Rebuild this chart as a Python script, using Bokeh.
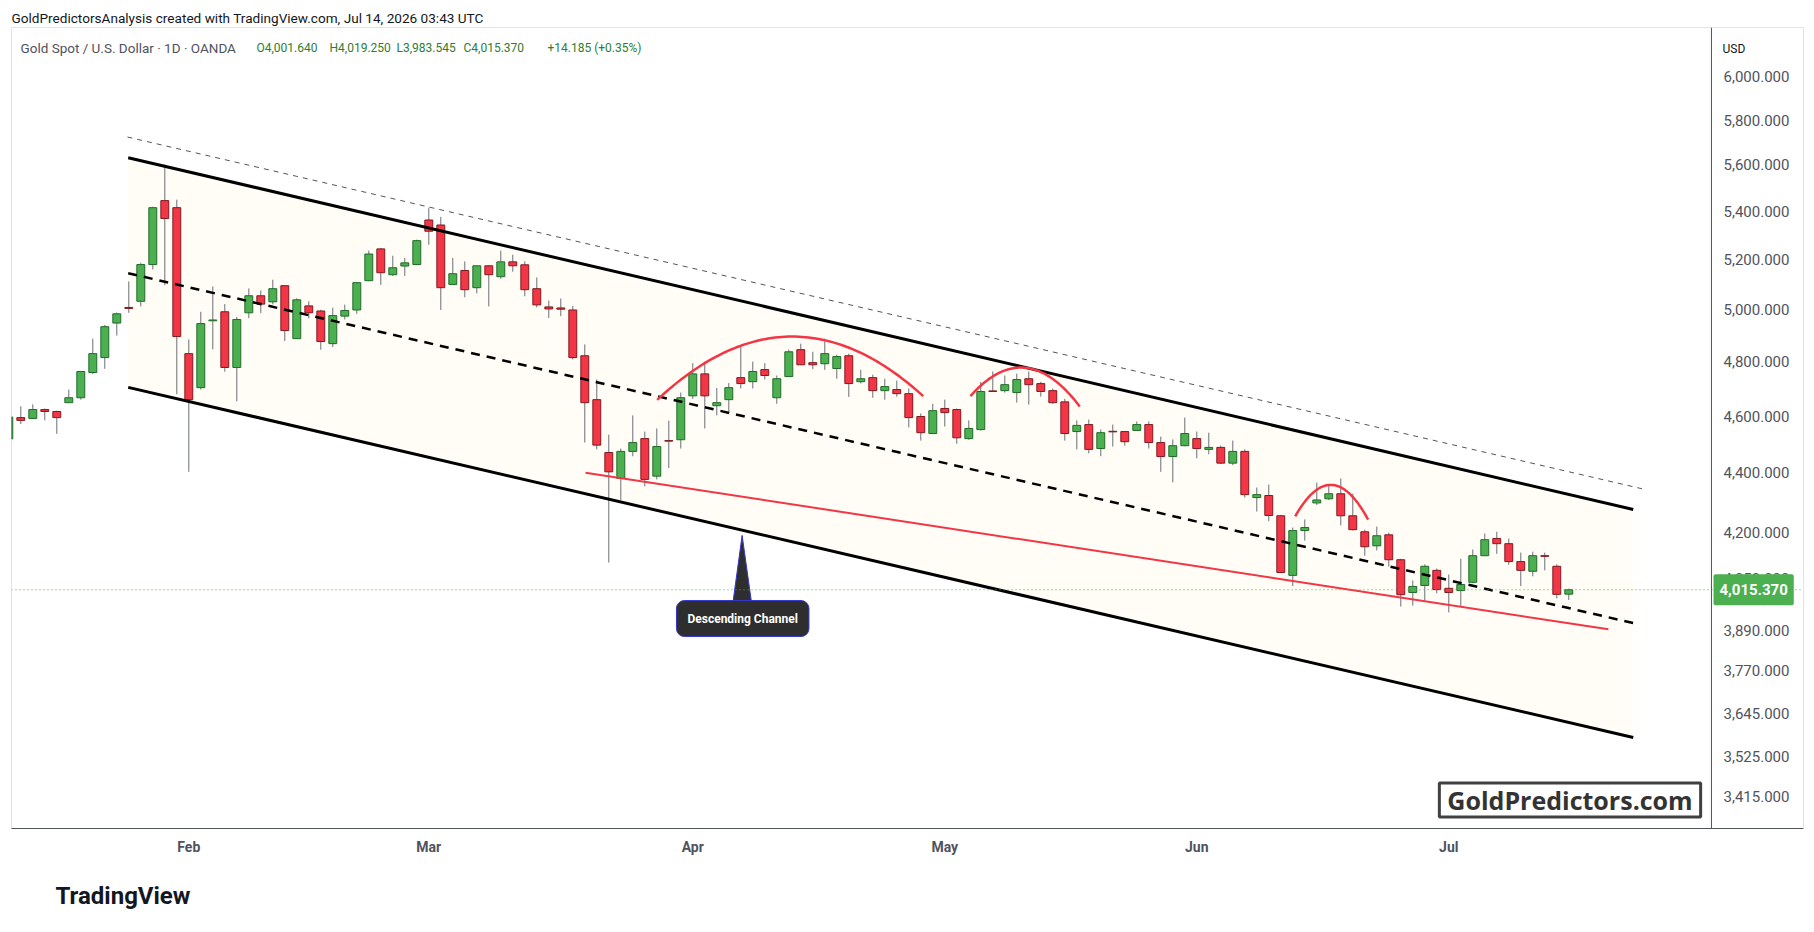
import numpy as np
from bokeh.plotting import figure
from bokeh.models import (ColumnDataSource, FixedTicker, NumeralTickFormatter, Label,
                          Span, Range1d, Title)
from bokeh.embed import file_html
from bokeh.resources import INLINE

# ---------------- data ----------------
bar_index = list(range(131))
opens = [4519, 4595, 4592, 4624, 4617, 4649, 4667, 4760, 4816, 4948,
         5009, 5033, 5180, 5446, 5416, 4831, 4704, 4957, 4992, 4779,
         4988, 5055, 5031, 5095, 4888, 5015, 4995, 4869, 4975, 4999,
         5115, 5244, 5139, 5174, 5180, 5364, 5343, 5100, 5156, 5087,
         5175, 5131, 5191, 5179, 5083, 5011, 5007, 4999, 4823, 4660,
         4471, 4381, 4475, 4520, 4389, 4513, 4516, 4674, 4755, 4638,
         4660, 4741, 4726, 4771, 4667, 4745, 4846, 4797, 4793, 4775,
         4823, 4726, 4741, 4693, 4697, 4682, 4599, 4538, 4628, 4624,
         4520, 4552, 4692, 4693, 4686, 4737, 4719, 4693, 4652, 4545,
         4570, 4485, 4546, 4545, 4549, 4570, 4506, 4457, 4495, 4520,
         4482, 4489, 4434, 4475, 4316, 4323, 4255, 4061, 4206, 4298,
         4312, 4329, 4255, 4202, 4156, 4192, 4111, 4007, 4029, 4077,
         4020, 4013, 4039, 4124, 4180, 4163, 4105, 4074, 4124, 4090,
         4001.640]
highs = [4605, 4636, 4643, 4628, 4620, 4697, 4766, 4888, 4941, 4989,
         5112, 5187, 5420, 5602, 5450, 4885, 4992, 5092, 5022, 4972,
         5084, 5076, 5119, 5097, 5045, 5033, 5000, 5008, 5020, 5110,
         5237, 5248, 5216, 5207, 5282, 5416, 5377, 5207, 5193, 5177,
         5177, 5237, 5220, 5193, 5128, 5036, 5044, 5015, 4866, 4734,
         4534, 4485, 4603, 4545, 4556, 4584, 4686, 4795, 4801, 4703,
         4721, 4861, 4801, 4795, 4749, 4846, 4869, 4838, 4888, 4827,
         4831, 4770, 4752, 4737, 4730, 4701, 4610, 4645, 4660, 4628,
         4585, 4725, 4764, 4749, 4756, 4764, 4726, 4701, 4663, 4585,
         4588, 4552, 4570, 4546, 4581, 4581, 4527, 4517, 4595, 4545,
         4541, 4495, 4513, 4482, 4350, 4360, 4258, 4216, 4243, 4367,
         4357, 4381, 4329, 4209, 4219, 4199, 4114, 4045, 4096, 4083,
         4064, 4114, 4144, 4196, 4202, 4180, 4134, 4137, 4134, 4096,
         4019.250]
lows = [4510, 4572, 4590, 4585, 4537, 4648, 4660, 4754, 4774, 4900,
        4988, 5013, 5160, 5097, 4680, 4404, 4697, 4847, 4763, 4654,
        4967, 4987, 5021, 4879, 4887, 4966, 4846, 4856, 4962, 4984,
        5113, 5098, 5134, 5134, 5178, 5261, 4999, 5098, 5049, 5065,
        5013, 5123, 5151, 5053, 5009, 4968, 4975, 4809, 4506, 4482,
        4102, 4308, 4458, 4354, 4378, 4417, 4485, 4663, 4556, 4603,
        4613, 4701, 4701, 4734, 4645, 4744, 4788, 4773, 4770, 4737,
        4670, 4719, 4667, 4660, 4671, 4560, 4513, 4536, 4563, 4502,
        4516, 4549, 4688, 4686, 4649, 4642, 4671, 4645, 4513, 4482,
        4468, 4458, 4492, 4495, 4547, 4485, 4404, 4368, 4493, 4451,
        4465, 4431, 4427, 4316, 4269, 4237, 4068, 4027, 4173, 4291,
        4308, 4223, 4206, 4124, 4141, 4089, 3963, 3966, 3982, 4004,
        3945, 3963, 4036, 4123, 4130, 4095, 4027, 4058, 4077, 3988,
        3983.545]
closes = [4597, 4585, 4624, 4617, 4595, 4667, 4764, 4831, 4934, 4984,
          5005, 5180, 5416, 5370, 4896, 4660, 4946, 4960, 4779, 4962,
          5055, 5022, 5083, 4919, 5039, 4988, 4877, 4977, 4997, 5107,
          5223, 5147, 5167, 5187, 5278, 5317, 5087, 5143, 5079, 5175,
          5139, 5191, 5175, 5079, 5019, 5003, 5002, 4816, 4649, 4497,
          4404, 4475, 4506, 4378, 4492, 4511, 4667, 4755, 4674, 4649,
          4704, 4719, 4764, 4749, 4737, 4838, 4789, 4789, 4831, 4820,
          4719, 4737, 4693, 4708, 4682, 4595, 4541, 4620, 4613, 4523,
          4556, 4690, 4690, 4715, 4734, 4715, 4690, 4649, 4538, 4567,
          4482, 4541, 4544, 4509, 4570, 4506, 4457, 4495, 4538, 4485,
          4489, 4434, 4475, 4326, 4326, 4256, 4070, 4206, 4216, 4308,
          4329, 4255, 4209, 4153, 4189, 4111, 4000, 4026, 4090, 4016,
          4007, 4032, 4124, 4176, 4163, 4105, 4077, 4124, 4122, 4001.185,
          4015.370]

month_ticks = [15, 35, 57, 78, 99, 120]
month_labels = ["Feb", "Mar", "Apr", "May", "Jun", "Jul"]
price_ticks = [6000, 5800, 5600, 5400, 5200, 5000, 4800, 4600, 4400, 4200,
               4050, 3890, 3770, 3645, 3525, 3415]

# drawing anchors (bar index, price)
channel_x = [9.95, 135.37]
channel_upper = [5632, 4276]
channel_mid = [5145, 3912]
channel_lower = [4705, 3577]
outer_x = [9.89, 136.1]
outer_p = [5724, 4346]
support_x = [48.06, 133.3]
support_p = [4401, 3893]
arcs = [([54.03, 65.1, 76.2], [4659, 4896, 4673]),
        ([80.14, 84.03, 89.25], [4673, 4778, 4635]),
        ([107.2, 110.28, 113.28], [4253, 4359, 4242])]
callout_tip = (61.11, 4190)
callout_base_x = [60.37, 61.87]
callout_base_p = 3982
callout_text_pos = (61.16, 3926)
price_scale_edge = 141.89   # bar position where the price scale strip begins

# ---------------- styles ----------------
UP, DOWN = "#4caf50", "#f23645"
UP_LINE, DOWN_LINE = "#1f6b2a", "#7e1a22"
WICK = "#6b6e78"
FONT = "Roboto"
TXT = "#131722"
AX = "#50535e"

p = figure(width=1814, height=932,
           x_range=Range1d(0.225, 149.56), y_range=Range1d(3330.8, 6236.6),
           y_axis_type="log", y_axis_location="right",
           output_backend="svg", toolbar_location=None,
           min_border_left=11, min_border_right=11,
           min_border_top=27, min_border_bottom=104)
p.xgrid.visible = False
p.ygrid.visible = False
p.outline_line_color = "#e0e3eb"
p.background_fill_color = "white"
p.border_fill_color = "white"

# header (title above the panel)
p.title.text = "GoldPredictorsAnalysis created with TradingView.com, Jul 14, 2026 03:43 UTC"
p.title.align = "left"
p.title.text_font = FONT
p.title.text_font_size = "13.6px"
p.title.text_font_style = "normal"
p.title.text_color = TXT
p.title.standoff = 3

# channel fill
p.patch(x=[channel_x[0], channel_x[1], channel_x[1], channel_x[0]],
        y=[channel_upper[0], channel_upper[1], channel_lower[1], channel_lower[0]],
        fill_color="#fffdf6", line_color=None)

# dotted last price line and price-scale separator
last = closes[-1]
p.add_layout(Span(location=last, dimension="width", line_color=UP,
                  line_dash="1 3", line_width=1))
p.add_layout(Span(location=price_scale_edge, dimension="height", line_color=AX,
                  line_width=1))

# candles
top = [max(o, c) for o, c in zip(opens, closes)]
bot = [min(o, c) for o, c in zip(opens, closes)]
up = [c >= o for o, c in zip(opens, closes)]
src = ColumnDataSource(dict(x=bar_index, h=highs, l=lows, top=top, bot=bot,
                            fill=[UP if u else DOWN for u in up],
                            line=[UP_LINE if u else DOWN_LINE for u in up]))
p.segment(x0="x", y0="h", x1="x", y1="l", source=src, line_color=WICK, line_width=1)
p.vbar(x="x", width=0.66, top="top", bottom="bot", source=src,
       fill_color="fill", line_color="line", line_width=1)

# channel lines
p.line(outer_x, outer_p, line_color="#555555", line_width=1, line_dash="5 5")
p.line(channel_x, channel_upper, line_color="black", line_width=3)
p.line(channel_x, channel_lower, line_color="black", line_width=3)
p.line(channel_x, channel_mid, line_color="black", line_width=2.5, line_dash="9 7")
p.line(support_x, support_p, line_color=DOWN, line_width=2)

# rounded tops
for ax, ap in arcs:
    coef = np.polyfit(np.array(ax), np.log(np.array(ap, dtype=float)), 2)
    xx = np.linspace(ax[0], ax[-1], 80)
    p.line(xx, np.exp(np.polyval(coef, xx)), line_color=DOWN, line_width=2.5)

# callout pointer
p.patch(x=[callout_tip[0], callout_base_x[1], callout_base_x[0]],
        y=[callout_tip[1], callout_base_p, callout_base_p],
        fill_color="#2e2e2e", line_color="#3535d0", line_width=1)
p.add_layout(Label(x=callout_text_pos[0], y=callout_text_pos[1],
                   text="Descending Channel", text_align="center", text_baseline="middle",
                   text_color="white", text_font=FONT, text_font_style="bold",
                   text_font_size="12px", background_fill_color="#2e2e2e",
                   border_line_color="#3535d0", border_line_width=1,
                   border_radius=8, padding=11))

# axes
yax = p.yaxis[0]
yax.ticker = FixedTicker(ticks=price_ticks)
yax.formatter = NumeralTickFormatter(format="0,0.000")
yax.major_tick_line_color = None
yax.minor_tick_line_color = None
yax.major_tick_out = 0
yax.major_label_standoff = -80
yax.axis_line_color = "#e0e3eb"
yax.major_label_text_color = AX
yax.major_label_text_font = FONT
yax.major_label_text_font_size = "15px"

xax = p.xaxis[0]
xax.ticker = FixedTicker(ticks=month_ticks)
xax.major_label_overrides = {t: l for t, l in zip(month_ticks, month_labels)}
xax.major_tick_line_color = None
xax.minor_tick_line_color = None
xax.major_tick_out = 0
xax.major_label_standoff = 10
xax.axis_line_color = AX
xax.major_label_text_color = AX
xax.major_label_text_font = FONT
xax.major_label_text_font_size = "14px"
xax.major_label_text_font_style = "bold"

# last price badge on the price scale
p.add_layout(Label(x=1713, y=last, x_units="canvas", y_units="data",
                   text=f"{last:,.3f}", text_align="left", text_baseline="middle",
                   text_color="white", text_font=FONT, text_font_style="bold",
                   text_font_size="15px", background_fill_color=UP,
                   border_radius=2, padding=(6, 10)))
p.add_layout(Label(x=1722, y=48, x_units="canvas", y_units="canvas", text="USD",
                   text_align="left", text_baseline="middle", text_color=TXT,
                   text_font=FONT, text_font_size="12px"))

# legend
p.add_layout(Label(x=20, y=47, x_units="canvas", y_units="canvas",
                   text="Gold Spot / U.S. Dollar \u00b7 1D \u00b7 OANDA",
                   text_align="left", text_baseline="middle", text_color=AX,
                   text_font=FONT, text_font_size="13.5px"))
chg = closes[-1] - closes[-2]
pct = chg / closes[-2] * 100
legend_items = [f"O{opens[-1]:,.3f}", f"H{highs[-1]:,.3f}", f"L{lows[-1]:,.3f}",
                f"C{closes[-1]:,.3f}", f"{chg:+.3f} ({pct:+.2f}%)"]
legend_x = [256, 329, 396, 463, 547]
for t, lx in zip(legend_items, legend_x):
    p.add_layout(Label(x=lx, y=47, x_units="canvas", y_units="canvas", text=t,
                       text_align="left", text_baseline="middle", text_color="#2e7d32",
                       text_font=FONT, text_font_size="12px"))

# watermark
p.add_layout(Label(x=1569.5, y=799.5, x_units="canvas", y_units="canvas",
                   text="GoldPredictors.com", text_align="center", text_baseline="middle",
                   text_color="#333333", text_font="Open Sans", text_font_style="bold",
                   text_font_size="25px", background_fill_color="white",
                   border_line_color="#404040", border_line_width=3, padding=(8, 0)))

# footer
footer = Title(text="TradingView", align="left", offset=44, standoff=44,
               text_font=FONT, text_font_style="bold", text_font_size="24px",
               text_color=TXT)
p.add_layout(footer, "below")

open("out.html", "w").write(file_html(p, INLINE))
